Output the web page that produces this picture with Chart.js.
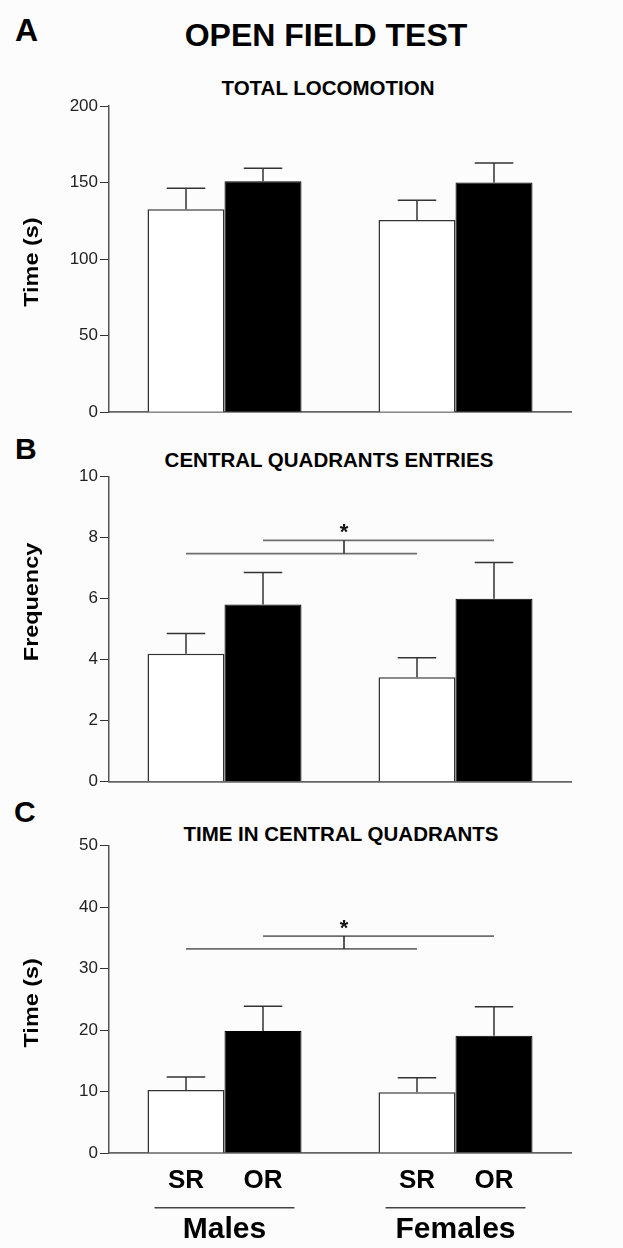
<!DOCTYPE html>
<html>
<head>
<meta charset="utf-8">
<title>Open field test</title>
<script src="https://cdn.jsdelivr.net/npm/chart.js@4.4.1/dist/chart.umd.min.js"></script>
<style>
  body { margin: 0; background: #fcfcfc; }
  #page { position: relative; width: 623px; height: 1248px; font-family: "Liberation Sans", Arial, Helvetica, sans-serif; }
  .lbl { position: absolute; font-weight: bold; color: #000; line-height: 1; white-space: nowrap; }
  .sub { font-size: 20.5px; transform: translateX(-50%); }
  canvas { position: absolute; left: 0; }
</style>
</head>
<body>
<div id="page">
  <div class="lbl" style="left:326px;top:19px;font-size:32px;transform:translateX(-50%)">OPEN FIELD TEST</div>
  <div class="lbl" style="left:15px;top:14px;font-size:32px">A</div>
  <div class="lbl" style="left:15px;top:434px;font-size:30px">B</div>
  <div class="lbl" style="left:14px;top:797px;font-size:30px">C</div>
  <div class="lbl sub" style="left:328px;top:78px">TOTAL LOCOMOTION</div>
  <div class="lbl sub" style="left:329px;top:450px">CENTRAL QUADRANTS ENTRIES</div>
  <div class="lbl sub" style="left:341px;top:824px">TIME IN CENTRAL QUADRANTS</div>

  <canvas id="panelA" width="623" height="440" style="top:0"></canvas>
  <canvas id="panelB" width="623" height="370" style="top:440px"></canvas>
  <canvas id="panelC" width="623" height="438" style="top:810px"></canvas>
</div>

<script>
const groups = ['Males', 'Females'];
const conditions = ['SR', 'OR'];

// A - total locomotion, time (s), mean and SEM
const locoSR = [132.6, 125.6];
const locoSRsem = [13.7, 12.9];
const locoOR = [150.9, 150.0];
const locoORsem = [8.5, 12.8];
const locoTicks = [0, 50, 100, 150, 200];

// B - central quadrants entries, frequency
const entriesSR = [4.19, 3.42];
const entriesSRsem = [0.66, 0.64];
const entriesOR = [5.80, 5.99];
const entriesORsem = [1.05, 1.19];
const entriesTicks = [0, 2, 4, 6, 8, 10];
const entriesSig = [7.47, 7.90];

// C - time in central quadrants (s)
const timeSR = [10.25, 9.87];
const timeSRsem = [2.12, 2.39];
const timeOR = [19.85, 19.09];
const timeORsem = [4.02, 4.71];
const timeTicks = [0, 10, 20, 30, 40, 50];
const timeSig = [33.2, 35.3];

const FONT = '"Liberation Sans", Arial, Helvetica, sans-serif';

// upward SEM whiskers with a cap half as wide as the bar
const semBars = {
  id: 'semBars',
  afterDatasetsDraw(chart, args, opts) {
    const ctx = chart.ctx, y = chart.scales.y;
    ctx.save();
    ctx.strokeStyle = '#333';
    ctx.lineWidth = 1.5;
    chart.data.datasets.forEach((ds, i) => {
      chart.getDatasetMeta(i).data.forEach((bar, j) => {
        const top = y.getPixelForValue(ds.data[j] + opts.sem[i][j]);
        const half = bar.width / 4;
        ctx.beginPath();
        ctx.moveTo(bar.x, bar.y);
        ctx.lineTo(bar.x, top);
        ctx.moveTo(bar.x - half, top);
        ctx.lineTo(bar.x + half, top);
        ctx.stroke();
      });
    });
    ctx.restore();
  }
};

// SR vs OR comparison bracket with asterisk
const sigBracket = {
  id: 'sigBracket',
  afterDatasetsDraw(chart, args, opts) {
    if (!opts.levels) return;
    const ctx = chart.ctx, y = chart.scales.y;
    const sr = chart.getDatasetMeta(0).data;
    const or = chart.getDatasetMeta(1).data;
    const yLow = y.getPixelForValue(opts.levels[0]);
    const yHigh = y.getPixelForValue(opts.levels[1]);
    const xMid = (chart.chartArea.left + chart.chartArea.right) / 2 + 4;
    ctx.save();
    ctx.strokeStyle = '#6e6e6e';
    ctx.lineWidth = 1.8;
    ctx.beginPath();
    ctx.moveTo(sr[0].x, yLow); ctx.lineTo(sr[1].x, yLow);
    ctx.moveTo(or[0].x, yHigh); ctx.lineTo(or[1].x, yHigh);
    ctx.stroke();
    ctx.strokeStyle = '#222';
    ctx.lineWidth = 1.5;
    ctx.beginPath();
    ctx.moveTo(xMid, yHigh); ctx.lineTo(xMid, yLow);
    ctx.stroke();
    ctx.fillStyle = '#111';
    ctx.font = 'bold 22px ' + FONT;
    ctx.textAlign = 'center';
    ctx.textBaseline = 'alphabetic';
    ctx.fillText('*', xMid, yHigh - 1);
    ctx.restore();
  }
};

// rotated y-axis title, slightly stretched along the text
const yTitle = {
  id: 'yTitle',
  afterDraw(chart, args, opts) {
    const ctx = chart.ctx, a = chart.chartArea;
    ctx.save();
    ctx.translate(38, (a.top + a.bottom) / 2 + opts.shift);
    ctx.rotate(-Math.PI / 2);
    ctx.scale(1.17, 1);
    ctx.font = 'bold 20px ' + FONT;
    ctx.fillStyle = '#000';
    ctx.textAlign = 'center';
    ctx.textBaseline = 'alphabetic';
    ctx.fillText(opts.text, 0, 0);
    ctx.restore();
  }
};

// condition names under each bar and underlined group names
const groupLabels = {
  id: 'groupLabels',
  afterDraw(chart, args, opts) {
    if (!opts.show) return;
    const ctx = chart.ctx, base = chart.chartArea.bottom;
    const metas = [chart.getDatasetMeta(0), chart.getDatasetMeta(1)];
    ctx.save();
    ctx.fillStyle = '#000';
    ctx.textAlign = 'center';
    ctx.textBaseline = 'alphabetic';
    ctx.font = 'bold 26px ' + FONT;
    metas.forEach((m, i) => m.data.forEach(bar => ctx.fillText(conditions[i], bar.x, base + 35)));
    ctx.strokeStyle = '#444';
    ctx.lineWidth = 1.6;
    ctx.font = 'bold 30px ' + FONT;
    groups.forEach((g, j) => {
      const cx = (metas[0].data[j].x + metas[1].data[j].x) / 2;
      ctx.beginPath();
      ctx.moveTo(cx - 70, base + 54.7);
      ctx.lineTo(cx + 70, base + 54.7);
      ctx.stroke();
      ctx.fillText(g, cx, base + 85);
    });
    ctx.restore();
  }
};

function panel(id, sr, srSem, or, orSem, ticks, title, shift, sig, pad, bottomLabels) {
  new Chart(document.getElementById(id), {
    type: 'bar',
    data: {
      labels: groups,
      datasets: [
        { label: conditions[0], data: sr, backgroundColor: '#ffffff', borderColor: '#333', borderWidth: 1.5, borderSkipped: 'start' },
        { label: conditions[1], data: or, backgroundColor: '#000000', borderColor: '#000', borderWidth: 1, borderSkipped: 'start' }
      ]
    },
    options: {
      responsive: false,
      animation: false,
      devicePixelRatio: 1,
      categoryPercentage: 2 / 3,
      barPercentage: 1,
      layout: { padding: { top: pad[0], right: 52, bottom: pad[1], left: 0 } },
      scales: {
        x: {
          offset: true,
          grid: { display: false },
          ticks: { display: false },
          border: { display: true, color: '#666', width: 1.8 },
          afterFit: s => { s.height = 0; }
        },
        y: {
          min: ticks[0],
          max: ticks[ticks.length - 1],
          afterBuildTicks: s => { s.ticks = ticks.map(v => ({ value: v })); },
          ticks: { color: '#222', padding: 2, font: { family: FONT, size: 17 } },
          grid: { drawOnChartArea: false, tickLength: 9, color: '#333', lineWidth: 1 },
          border: { color: '#555', width: 1.5 },
          afterFit: s => { s.width = 109; }
        }
      },
      plugins: {
        legend: { display: false },
        tooltip: { enabled: false },
        semBars: { sem: [srSem, orSem] },
        sigBracket: { levels: sig },
        yTitle: { text: title, shift: shift },
        groupLabels: { show: bottomLabels }
      }
    },
    plugins: [semBars, sigBracket, yTitle, groupLabels]
  });
}

panel('panelA', locoSR, locoSRsem, locoOR, locoORsem, locoTicks, 'Time (s)', 3, null, [106, 27.7], false);
panel('panelB', entriesSR, entriesSRsem, entriesOR, entriesORsem, entriesTicks, 'Frequency', -27, entriesSig, [36.3, 28.3], false);
panel('panelC', timeSR, timeSRsem, timeOR, timeORsem, timeTicks, 'Time (s)', 3.5, timeSig, [35.7, 95], true);
</script>
</body>
</html>
